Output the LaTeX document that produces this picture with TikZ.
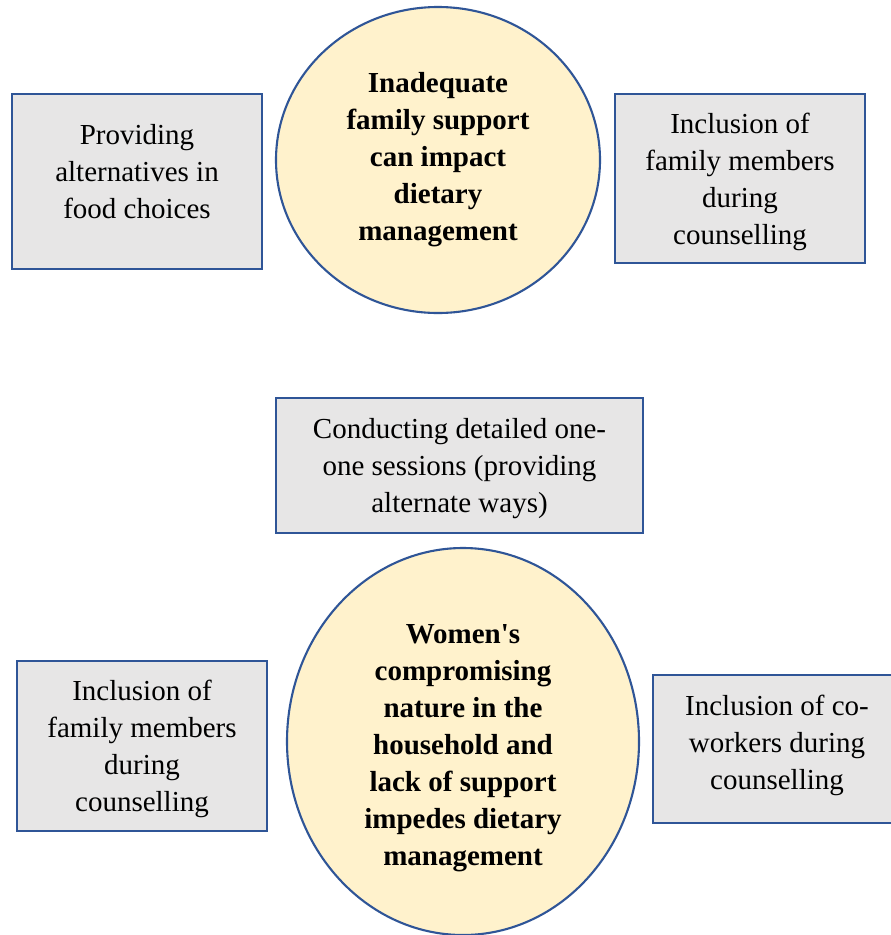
\documentclass[tikz,border=0pt]{standalone}
\usepackage{fontspec}
\setmainfont{Liberation Serif}[Ligatures=TeXOff]
\usetikzlibrary{shapes.geometric}
\definecolor{edgeblue}{HTML}{2F5597}
\definecolor{boxgray}{HTML}{E7E6E6}
\definecolor{cream}{HTML}{FFF2CC}
\tikzset{
  x=1pt, y=-1pt,
  every node/.style={font=\fontsize{29}{37}\selectfont, align=center, inner sep=0pt},
  optionbox/.style={draw=edgeblue, line width=2.1pt, fill=boxgray, rectangle},
  theme/.style={draw=edgeblue, line width=2.1pt, fill=cream, ellipse},
  bold/.style={font=\fontsize{29}{37}\selectfont\bfseries},
}
\begin{document}
\begin{tikzpicture}
\useasboundingbox (0,0) rectangle (891,935);
\clip (0,0) rectangle (891,935);
\fill[white] (0,0) rectangle (891,935);

% first theme and its two responses
\node[theme, minimum width=324pt, minimum height=306pt] (themeA) at (438,160) {};
\node[bold] (themeAtext) at (438,160) {Inadequate\\family support\\can impact\\dietary\\management};

\node[optionbox, minimum width=250pt, minimum height=175pt] (altFood) at (137,181.5) {};
\node (altFoodtext) at (137,172) {Providing\\alternatives in\\food choices};

\node[optionbox, minimum width=250pt, minimum height=169pt] (familyA) at (740,178.5) {};
\node (familyAtext) at (740,182) {Inclusion of\\family members\\during\\counselling};

% second theme and its three responses
\node[optionbox, minimum width=367pt, minimum height=135pt] (oneone) at (459.5,465.5) {};
\node (oneonetext) at (459.5,468.5) {Conducting detailed one-\\one sessions (providing\\alternate ways)};

\node[theme, minimum width=352pt, minimum height=387pt] (themeB) at (463,741.5) {};
\node[bold] (themeBtext) at (463,748) {Women's\\compromising\\nature in the\\household and\\lack of support\\impedes dietary\\management};

\node[optionbox, minimum width=250pt, minimum height=170pt] (familyB) at (142,746) {};
\node (familyBtext) at (142,749) {Inclusion of\\family members\\during\\counselling};

\node[optionbox, minimum width=250pt, minimum height=148pt] (coworkers) at (778,749) {};
\node (coworkerstext) at (777,745) {Inclusion of co-\\workers during\\counselling};
\end{tikzpicture}
\end{document}
